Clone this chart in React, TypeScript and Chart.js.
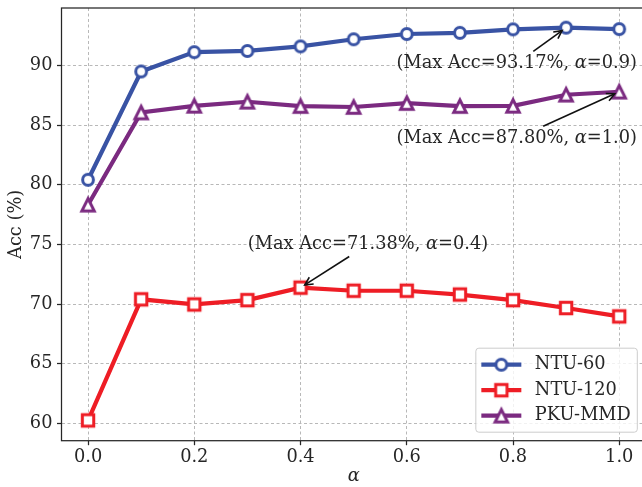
import React, { useEffect, useRef } from "react";
import { Chart, registerables } from "chart.js";
Chart.register(...registerables);

const alphas = [0, 0.1, 0.2, 0.3, 0.4, 0.5, 0.6, 0.7, 0.8, 0.9, 1.0];
const ntu60 = [80.42, 89.5, 91.12, 91.22, 91.6, 92.2, 92.64, 92.74, 93.03, 93.17, 93.05];
const ntu120 = [60.25, 70.4, 69.97, 70.33, 71.38, 71.12, 71.12, 70.8, 70.33, 69.67, 68.97];
const pkummd = [78.33, 86.06, 86.62, 86.96, 86.6, 86.52, 86.85, 86.6, 86.62, 87.55, 87.8];
const seriesNames = ["NTU-60", "NTU-120", "PKU-MMD"];
const seriesColors = ["#3953a4", "#ee1d25", "#7b2a80"];
const seriesMarkers = ["circle", "square", "triangle"];
const xTicks = [0, 0.2, 0.4, 0.6, 0.8, 1.0];
const yTicks = [60, 65, 70, 75, 80, 85, 90];
const annPointX = [0.9, 1.0, 0.4];
const annPointY = [93.17, 87.8, 71.38];
const annTextX = [0.807, 0.807, 0.527];
const annTextY = [90.17, 83.9, 75.0];
const annPrefix = ["(Max Acc=93.17%, ", "(Max Acc=87.80%, ", "(Max Acc=71.38%, "];
const annSymbol = ["α", "α", "α"];
const annSuffix = ["=0.9)", "=1.0)", "=0.4)"];

const FONT = "'DejaVu Serif'";
const FS = 17.8;
const INK = "#262626";

function makeMarker(kind: string, color: string): HTMLCanvasElement {
  const c = document.createElement("canvas");
  c.width = 24;
  c.height = 24;
  const g = c.getContext("2d")!;
  g.lineWidth = 3;
  g.strokeStyle = color;
  g.fillStyle = "#ffffff";
  g.lineJoin = "miter";
  g.beginPath();
  if (kind === "circle") {
    g.arc(12, 12, 5.4, 0, Math.PI * 2);
  } else if (kind === "square") {
    g.rect(12 - 5.7, 12 - 5.7, 11.4, 11.4);
  } else {
    const h = 6.2;
    g.moveTo(12, 12 - h);
    g.lineTo(12 - h, 12 + h);
    g.lineTo(12 + h, 12 + h);
    g.closePath();
  }
  g.fill();
  g.stroke();
  return c;
}

export default function App() {
  const ref = useRef<HTMLCanvasElement>(null);
  useEffect(() => {
    const canvas = ref.current!;
    const markers = seriesMarkers.map((m, i) => makeMarker(m, seriesColors[i]));
    const seriesData = [ntu60, ntu120, pkummd];

    const framePlugin = {
      id: "frame",
      afterDatasetsDraw(chart: any) {
        const { ctx, chartArea: a } = chart;
        ctx.save();
        ctx.strokeStyle = INK;
        ctx.lineWidth = 1.25;
        ctx.strokeRect(a.left, a.top, a.right - a.left, a.bottom - a.top);
        ctx.restore();
      },
    };

    const annPlugin = {
      id: "ann",
      afterDatasetsDraw(chart: any) {
        const { ctx } = chart;
        const xs = chart.scales.x;
        const ys = chart.scales.y;
        ctx.save();
        for (let i = 0; i < annPointX.length; i++) {
          const px = xs.getPixelForValue(annPointX[i]);
          const py = ys.getPixelForValue(annPointY[i]);
          const tx = xs.getPixelForValue(annTextX[i]);
          const ty = ys.getPixelForValue(annTextY[i]);
          const normal = `${FS}px ${FONT}`;
          const ital = `italic ${FS}px ${FONT}`;
          ctx.font = normal;
          const w1 = ctx.measureText(annPrefix[i]).width;
          const w3 = ctx.measureText(annSuffix[i]).width;
          ctx.font = ital;
          const w2 = ctx.measureText(annSymbol[i]).width;
          const tw = w1 + w2 + w3;
          const x0 = tx - tw / 2;
          ctx.fillStyle = INK;
          ctx.textBaseline = "middle";
          ctx.textAlign = "left";
          ctx.font = normal;
          ctx.fillText(annPrefix[i], x0, ty);
          ctx.font = ital;
          ctx.fillText(annSymbol[i], x0 + w1, ty);
          ctx.font = normal;
          ctx.fillText(annSuffix[i], x0 + w1 + w2, ty);
          const dx = px - tx;
          const dy = py - ty;
          const len = Math.hypot(dx, dy);
          const ux = dx / len;
          const uy = dy / len;
          const hw = tw / 2 + 3;
          const hh = 12;
          const t = Math.min(Math.abs(hw / (dx || 1e-9)), Math.abs(hh / (dy || 1e-9)));
          const sx = tx + dx * t;
          const sy = ty + dy * t;
          const ex = px - ux * 5;
          const ey = py - uy * 5;
          ctx.strokeStyle = "#111111";
          ctx.lineWidth = 1.6;
          ctx.lineCap = "butt";
          ctx.beginPath();
          ctx.moveTo(sx, sy);
          ctx.lineTo(ex, ey);
          ctx.stroke();
          const hl = 8;
          const hwid = 4;
          ctx.beginPath();
          ctx.moveTo(ex - ux * hl - uy * hwid, ey - uy * hl + ux * hwid);
          ctx.lineTo(ex, ey);
          ctx.lineTo(ex - ux * hl + uy * hwid, ey - uy * hl - ux * hwid);
          ctx.stroke();
        }
        ctx.restore();
      },
    };

    const legendPlugin = {
      id: "customLegend",
      afterDraw(chart: any) {
        const { ctx, chartArea: a } = chart;
        ctx.save();
        ctx.font = `${FS}px ${FONT}`;
        const maxW = Math.max(...seriesNames.map((n) => ctx.measureText(n).width));
        const pad = 5.5;
        const handle = 40;
        const gap = 13.5;
        const right = a.right - 8.5;
        const bottom = a.bottom - 8.5;
        const height = 84;
        const width = pad + handle + gap + maxW + pad + 1;
        const left = right - width;
        const top = bottom - height;
        ctx.beginPath();
        ctx.roundRect(left, top, width, height, 3);
        ctx.fillStyle = "rgba(255,255,255,0.8)";
        ctx.fill();
        ctx.strokeStyle = "#cccccc";
        ctx.lineWidth = 1;
        ctx.stroke();
        for (let i = 0; i < seriesNames.length; i++) {
          const cy = top + 16.5 + i * 25.5;
          const hx = left + pad;
          ctx.strokeStyle = seriesColors[i];
          ctx.lineWidth = 4.2;
          ctx.beginPath();
          ctx.moveTo(hx, cy);
          ctx.lineTo(hx + handle, cy);
          ctx.stroke();
          const m = markers[i];
          ctx.drawImage(m, hx + handle / 2 - m.width / 2, cy - m.height / 2);
          ctx.fillStyle = INK;
          ctx.textBaseline = "middle";
          ctx.textAlign = "left";
          ctx.fillText(seriesNames[i], hx + handle + gap, cy);
        }
        ctx.restore();
      },
    };

    const datasets = seriesNames.map((name, i) => ({
      label: name,
      data: alphas.map((a, j) => ({ x: a, y: seriesData[i][j] })),
      borderColor: seriesColors[i],
      backgroundColor: "#ffffff",
      borderWidth: 4.2,
      pointStyle: markers[i] as any,
      pointRadius: 7,
      tension: 0,
      order: 3 - i,
    }));

    const zeroPad = (s: any) => {
      s.paddingTop = 0;
      s.paddingBottom = 0;
      s.paddingLeft = 0;
      s.paddingRight = 0;
    };

    const chart = new Chart(canvas, {
      type: "line",
      data: { datasets },
      plugins: [framePlugin, annPlugin, legendPlugin],
      options: {
        animation: false,
        responsive: false,
        devicePixelRatio: 1,
        events: [],
        layout: { autoPadding: false, padding: { top: 8, right: 14.2, left: 0, bottom: 0 } },
        plugins: { legend: { display: false }, tooltip: { enabled: false } },
        scales: {
          x: {
            type: "linear",
            min: -0.05,
            max: 1.05,
            afterBuildTicks: (s: any) => {
              s.ticks = xTicks.map((v) => ({ value: v }));
            },
            afterFit: (s: any) => {
              s.height = 46.3;
              zeroPad(s);
            },
            ticks: {
              color: INK,
              font: { family: FONT, size: FS },
              padding: 1.5,
              maxRotation: 0,
              autoSkip: false,
              callback: (v: any) => Number(v).toFixed(1),
            },
            grid: { color: "#b8b8b8", lineWidth: 1, tickColor: INK, tickLength: 4.5, tickWidth: 1.25 },
            border: { display: false, dash: [3, 2.5] },
            title: {
              display: true,
              text: "α",
              color: INK,
              font: { family: FONT, size: FS, style: "italic" },
              padding: { top: 0, bottom: 0 },
            },
          },
          y: {
            type: "linear",
            min: 58.55,
            max: 94.82,
            afterBuildTicks: (s: any) => {
              s.ticks = yTicks.map((v) => ({ value: v }));
            },
            afterFit: (s: any) => {
              s.width = 61.5;
              zeroPad(s);
            },
            ticks: {
              color: INK,
              font: { family: FONT, size: FS, lineHeight: 0.3 },
              padding: 4.5,
              autoSkip: false,
              callback: (v: any) => String(v),
            },
            grid: { color: "#b8b8b8", lineWidth: 1, tickColor: INK, tickLength: 4.5, tickWidth: 1.25 },
            border: { display: false, dash: [3, 2.5] },
            title: {
              display: true,
              text: "Acc (%)",
              color: INK,
              font: { family: FONT, size: FS },
              padding: { top: 5.5, bottom: 0 },
            },
          },
        },
      },
    });
    return () => chart.destroy();
  }, []);
  return (
    <div
      style={{ position: "fixed", left: 0, top: 0, width: 642, height: 487, overflow: "hidden", background: "#ffffff" }}
    >
      <canvas ref={ref} width={660} height={487} style={{ width: 660, height: 487, display: "block" }} />
    </div>
  );
}
